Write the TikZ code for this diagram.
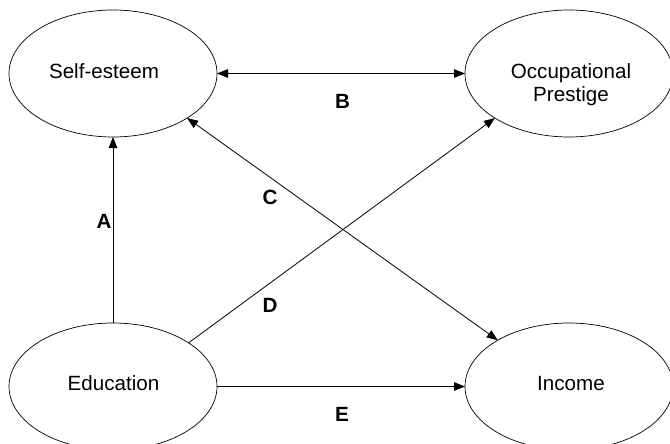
\documentclass[tikz,border=0pt]{standalone}
\usepackage{fontspec}
\setmainfont{Liberation Sans}
\usetikzlibrary{shapes.geometric,arrows.meta}
\begin{document}
\begin{tikzpicture}[x=1pt,y=-1pt,
  construct/.style={ellipse,draw,line width=0.7pt,minimum width=208pt,minimum height=127pt,inner sep=0pt,outer sep=0pt},
  nametext/.style={inner sep=0pt,anchor=base,font=\fontsize{20.6}{24}\selectfont},
  pathlabel/.style={inner sep=0pt,anchor=base,font=\fontsize{20.6}{24}\selectfont\bfseries},
  link/.style={line width=0.8pt,-{Triangle[length=11pt,width=8.5pt]}},
  bilink/.style={line width=0.8pt,{Triangle[length=11pt,width=8.5pt]}-{Triangle[length=11pt,width=8.5pt]}}]
\useasboundingbox (0,0) rectangle (670,444);

% latent constructs
\node[construct] (se) at (113,73.5) {};
\node[construct] (op) at (569,73.5) {};
\node[construct] (ed) at (113,386.5) {};
\node[construct] (in) at (569,386.5) {};

% construct names
\node[nametext] (setxt) at (104,78) {Self-esteem};
\node[nametext] (optxt1) at (571,78) {Occupational};
\node[nametext] (optxt2) at (571,102) {Prestige};
\node[nametext] (edtxt) at (113.5,390) {Education};
\node[nametext] (intxt) at (571,390) {Income};

% paths
\draw[link] (ed.north) -- (se.south);
\draw[bilink] (se.east) -- (op.west);
\draw[bilink] (se.-31) -- (in.147);
\draw[link] (ed.30) -- (op.211);
\draw[link] (ed.east) -- (in.west);

% path labels
\node[pathlabel] (la) at (104,228) {A};
\node[pathlabel] (lb) at (342.5,109) {B};
\node[pathlabel] (lc) at (270,204) {C};
\node[pathlabel] (ld) at (270,312) {D};
\node[pathlabel] (le) at (342,421) {E};
\end{tikzpicture}
\end{document}
